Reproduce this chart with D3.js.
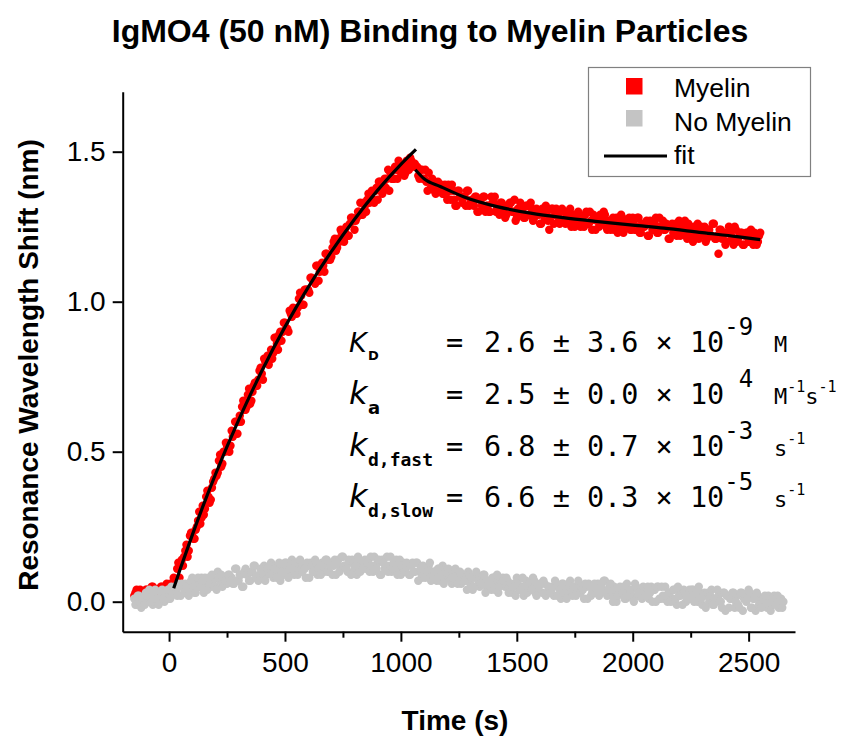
<!DOCTYPE html>
<html><head><meta charset="utf-8">
<script src="https://cdn.jsdelivr.net/npm/d3@7"></script>
<style>
html,body{margin:0;padding:0;background:#fff;}
text{white-space:pre;}
</style></head>
<body><svg id="c" width="856" height="738"></svg>
<script>
// ---- data ----
const title = "IgMO4 (50 nM) Binding to Myelin Particles";
const xLabel = "Time (s)";
const yLabel = "Resonance Wavelength Shift (nm)";
const xTicks = [0, 500, 1000, 1500, 2000, 2500];
const xMinorTicks = [250, 750, 1250, 1750, 2250];
const yTicks = [0.0, 0.5, 1.0, 1.5];
const legendLabels = ["Myelin", "No Myelin", "fit"];

// Myelin, sampled every 10 s from -150 s
const sampleStep = 10;
const myelinStart = -150;
const myelin = [
.02,.04,.03,.01,.03,.04,.02,.03,.05,.03,.04,.02,.05,.04,.06,.04,.05,
.08,.07,.13,.12,.12,.17,.15,.22,.22,.21,
.25,.30,.28,.29,.35,.35,.34,.40,.43,.43,
.49,.46,.50,.52,.50,.57,.56,.60,.60,.60,
.67,.64,.69,.66,.70,.73,.72,.77,.76,.81,
.80,.79,.84,.83,.88,.84,.90,.90,.93,.91,
.97,.95,.97,.96,1.01,1.02,.99,1.04,1.04,1.08,
1.07,1.06,1.12,1.10,1.13,1.10,1.16,1.15,1.15,1.20,
1.17,1.21,1.24,1.21,1.23,1.22,1.26,1.28,1.24,1.28,
1.30,1.29,1.33,1.30,1.36,1.34,1.34,1.37,1.34,1.40,
1.36,1.41,1.41,1.37,1.41,1.41,1.44,1.47,1.43,1.45,
1.43,1.46,1.48,1.45,1.46,
1.45,1.41,1.44,1.41,1.40,1.43,1.38,1.40,1.36,1.40,
1.38,1.36,1.39,1.34,1.37,1.39,1.34,1.32,1.37,1.35,
1.35,1.32,1.37,1.33,1.33,1.35,1.30,1.34,1.32,1.35,
1.32,1.30,1.35,1.33,1.30,1.31,1.33,1.31,1.28,1.32,
1.33,1.30,1.34,1.28,1.30,1.31,1.28,1.32,1.29,1.33,
1.27,1.29,1.30,1.26,1.31,1.28,1.30,1.24,1.31,1.26,
1.31,1.28,1.27,1.30,1.26,1.29,1.31,1.27,1.25,1.29,
1.27,1.28,1.25,1.30,1.26,1.27,1.29,1.24,1.28,1.29,
1.26,1.29,1.24,1.26,1.27,1.24,1.28,1.25,1.29,1.23,
1.27,1.26,1.24,1.28,1.24,1.28,1.23,1.26,1.25,1.27,
1.22,1.26,1.24,1.28,1.23,1.25,1.27,1.24,1.25,1.21,
1.26,1.24,1.22,1.27,1.23,1.25,1.22,1.26,1.23,1.20,
1.24,1.26,1.22,1.23,1.25,1.21,1.24,1.22,1.26,1.21,
1.16,1.24,1.22,1.19,1.23,1.24,1.21,1.25,1.20,1.22,
1.23,1.19,1.23,1.20,1.24,1.19,1.22,1.20,1.23
];
// Myelin, the in-between samples (every 10 s from -145 s)
const myelinMidStart = -145;
const myelinMid = [
.03,.02,.04,.03,.02,.04,.03,.05,.03,.04,.03,.05,.04,.03,.05,.06,.05,
.06,.11,.08,.14,.15,.19,.17,.23,.21,.24,
.27,.26,.32,.31,.37,.33,.38,.41,.42,.47,
.45,.50,.53,.52,.52,.55,.60,.56,.62,.65,
.64,.65,.71,.67,.72,.72,.74,.78,.74,.80,
.82,.81,.81,.88,.86,.89,.87,.93,.91,.90,
.96,.98,.97,.98,1.03,.99,1.04,1.04,1.03,1.08,
1.07,1.12,1.07,1.12,1.12,1.16,1.14,1.14,1.18,1.21,
1.18,1.20,1.23,1.20,1.25,1.22,1.28,1.27,1.27,1.30,
1.33,1.29,1.32,1.34,1.33,1.37,1.33,1.38,1.40,1.37,
1.39,1.38,1.44,1.43,1.41,1.45,1.41,1.44,1.45,1.42,
1.47,1.44,1.47,1.46,
1.45,
1.42,1.44,1.41,1.44,1.37,1.40,1.41,1.37,1.39,1.37,
1.39,1.36,1.36,1.39,1.34,1.37,1.32,1.37,1.35,1.33,
1.35,1.37,1.32,1.34,1.32,1.35,1.30,1.34,1.35,1.30,
1.32,1.30,1.33,1.35,1.31,1.29,1.33,1.31,1.29,1.32,
1.33,1.30,1.27,1.31,1.33,1.30,1.28,1.32,1.29,1.31,
1.28,1.31,1.29,1.26,1.30,1.32,1.27,1.28,1.31,1.29,
1.29,1.26,1.31,1.27,1.28,1.30,1.25,1.29,1.27,1.30,
1.25,1.27,1.29,1.26,1.30,1.24,1.28,1.27,1.25,1.28,
1.30,1.25,1.27,1.24,1.28,1.26,1.23,1.27,1.28,1.25,
1.26,1.28,1.24,1.26,1.24,1.28,1.23,1.25,1.26,1.22,
1.27,1.24,1.26,1.23,1.28,1.25,1.24,1.26,1.21,1.25,
1.23,1.26,1.24,1.22,1.25,1.27,1.21,1.24,1.22,1.25,
1.23,1.21,1.25,1.24,1.20,1.24,1.22,1.26,1.21,1.22,
1.24,1.21,1.23,1.20,1.25,1.22,1.19,1.24,1.21,1.23,
1.19,1.22,1.23,1.20,1.21,1.23,1.19,1.22
];
// No Myelin, every 10 s from -150 s
const noMyelinStart = -150;
const noMyelin = [
.01,-.01,.02,-.02,.01,.03,.00,.02,-.01,.04,.01,.00,.04,.00,.03,.01,.05,.03,.03,.06,
.02,.05,.06,.04,.05,.08,.03,.06,.05,.08,.03,.06,.08,.05,.07,.05,.10,.07,.05,.08,
.06,.09,.08,.06,.11,.07,.09,.05,.11,.09,.07,.10,.12,.08,.09,.08,.12,.09,.11,.13,
.08,.10,.12,.07,.11,.13,.10,.11,.14,.09,.12,.10,.13,.11,.08,.12,.13,.10,.14,.09,
.11,.13,.10,.14,.10,.13,.12,.09,.14,.11,.15,.12,.10,.13,.14,.11,.09,.14,.12,.13,
.11,.14,.15,.10,.12,.13,.09,.14,.11,.15,.12,.10,.13,.14,.11,.09,.13,.11,.12,.09,
.13,.10,.13,.10,.08,.11,.09,.12,.07,.10,.09,.11,.07,.12,.08,.09,.09,.06,.10,.07,
.09,.06,.09,.07,.10,.06,.04,.08,.09,.05,.07,.09,.05,.07,.04,.08,.06,.03,.07,.08,
.05,.07,.05,.03,.06,.08,.04,.05,.02,.07,.04,.06,.08,.03,.05,.06,.03,.06,.03,.05,
.04,.02,.06,.05,.01,.06,.04,.03,.07,.02,.05,.03,.06,.04,.01,.05,.06,.02,.05,.03,
.06,.03,.04,.07,.02,.05,.02,.05,.00,.03,.04,.05,.01,.04,.03,.01,.06,.02,.04,.01,
.04,.03,.01,.05,.04,.00,.05,.01,.02,.05,.00,.03,.01,.04,-.01,.02,.03,.04,.00,.02,
.01,.04,.02,.00,.03,-.01,.03,.02,.00,.04,-.01,.01,.02,.00,.03,-.03,.02,.01,.03,-.02,
.02,-.02,.03,.01,.00,.04,-.02,.01,-.03,.02,.00,-.01,.02,-.02,.01,-.01,.02,.00,-.02,.01,
.00
];
// No Myelin, the in-between samples (every 10 s from -145 s)
const noMyelinMidStart = -145;
const noMyelinMid = [
-.01,.02,.00,.01,-.01,.02,.04,.00,.03,.01,-.01,.03,.01,.03,.04,.01,.03,.05,.02,.05,
.06,.03,.05,.02,.07,.05,.03,.08,.05,.07,.08,.04,.06,.09,.05,.04,.08,.09,.06,.07,
.09,.07,.06,.11,.07,.09,.05,.10,.09,.07,.10,.12,.08,.07,.11,.10,.07,.11,.12,.09,
.11,.08,.13,.10,.09,.13,.08,.12,.11,.13,.09,.14,.10,.11,.13,.08,.12,.10,.13,.11,
.09,.12,.14,.10,.12,.09,.14,.13,.10,.15,.12,.11,.14,.09,.13,.12,.15,.10,.11,.14,
.13,.10,.12,.15,.11,.14,.09,.13,.12,.10,.15,.11,.13,.09,.14,.12,.10,.13,.09,.12,
.10,.13,.07,.11,.12,.08,.10,.13,.09,.10,.07,.11,.09,.06,.10,.11,.07,.08,.11,.06,
.10,.07,.07,.04,.09,.08,.05,.10,.07,.06,.09,.03,.07,.06,.08,.04,.09,.05,.06,.07,
.08,.03,.06,.05,.02,.07,.04,.08,.05,.03,.06,.04,.07,.02,.05,.06,.07,.02,.05,.03,
.05,.07,.02,.04,.06,.03,.01,.06,.04,.05,.02,.07,.03,.04,.06,.01,.05,.03,.06,.04,
.02,.05,.07,.03,.04,.06,.00,.04,.02,.05,.03,.01,.06,.02,.04,.00,.05,.03,.02,.05,
.02,.05,.03,.00,.04,.05,.01,.05,.01,.02,.03,.00,.04,.01,.05,.02,-.01,.03,.01,.04,
.04,.00,.03,.05,.01,.02,-.02,.03,.02,-.01,.01,.04,.00,-.02,.03,.02,-.02,.01,.03,.00,
-.01,.03,-.03,.02,.01,.03,-.02,.01,.03,-.01,-.02,.01,.00,.02,-.03,.01,-.01,.02,.00,-.02
];
// fit curves
const assocFitT = [20, 50, 100, 150, 200, 300, 400, 500, 600, 700, 800, 900, 1000, 1065];
const assocFitV = [0.045, 0.113, 0.222, 0.326, 0.424, 0.605, 0.769, 0.916, 1.048, 1.167, 1.275, 1.372, 1.458, 1.508];
const dissocFitT = [1062, 1100, 1170, 1270, 1415, 1560, 1700, 1850, 2000, 2135, 2300, 2450, 2550];
const dissocFitV = [1.44, 1.41, 1.384, 1.35, 1.317, 1.295, 1.28, 1.267, 1.255, 1.245, 1.23, 1.217, 1.207];

// annotation rows
const annoRows = [
  {sym:"K", sub:"D", val:"2.6 ± 3.6 × 10", exp:"-9", unit:[["M",""]]},
  {sym:"k", sub:"a", val:"2.5 ± 0.0 × 10", exp:" 4", unit:[["M","-1"],["s","-1"]]},
  {sym:"k", sub:"d,fast", val:"6.8 ± 0.7 × 10", exp:"-3", unit:[["s","-1"]]},
  {sym:"k", sub:"d,slow", val:"6.6 ± 0.3 × 10", exp:"-5", unit:[["s","-1"]]}
];

// ---- drawing ----
const svg = d3.select("#c");
const x = d3.scaleLinear().domain([-200, 2700]).range([122.7, 795]);
const y = d3.scaleLinear().domain([-0.1, 1.7]).range([631.7, 91.7]);
const sans = "'Liberation Sans', Arial, sans-serif";
const mono = "'DejaVu Sans Mono', monospace";

const toPts = (arr, start) => arr.map((v,i)=>({t: start + i*sampleStep, v}));
const red = toPts(myelin, myelinStart).concat(toPts(myelinMid, myelinMidStart));
const grey = toPts(noMyelin, noMyelinStart).concat(toPts(noMyelinMid, noMyelinMidStart));

const R = 4.2;
svg.append("g").selectAll("circle").data(red).join("circle")
  .attr("cx", d=>x(d.t)).attr("cy", d=>y(d.v)).attr("r", R).attr("fill", "#ff0000");
svg.append("g").selectAll("circle").data(grey).join("circle")
  .attr("cx", d=>x(d.t)).attr("cy", d=>y(d.v)).attr("r", R).attr("fill", "#c4c4c4");

const line = d3.line().x(d=>x(d[0])).y(d=>y(d[1])).curve(d3.curveMonotoneX);
svg.append("path").attr("d", line(assocFitT.map((t,i)=>[t, assocFitV[i]])))
  .attr("fill","none").attr("stroke","#000").attr("stroke-width",3.2);
svg.append("path").attr("d", line(dissocFitT.map((t,i)=>[t, dissocFitV[i]])))
  .attr("fill","none").attr("stroke","#000").attr("stroke-width",3.2);

// axes
const gx = svg.append("g").attr("transform", `translate(0,${y(-0.1)})`)
  .call(d3.axisBottom(x).tickValues(xTicks).tickFormat(d3.format("d")).tickSize(10).tickPadding(10).tickSizeOuter(0));
const gxm = svg.append("g").attr("transform", `translate(0,${y(-0.1)})`)
  .call(d3.axisBottom(x).tickValues(xMinorTicks).tickFormat("").tickSize(6).tickSizeOuter(0));
gxm.select(".domain").remove();
const gy = svg.append("g").attr("transform", `translate(${x(-200)},0)`)
  .call(d3.axisLeft(y).tickValues(yTicks).tickFormat(d3.format(".1f")).tickSize(10).tickPadding(7).tickSizeOuter(0));
[gx, gxm, gy].forEach(g=>{
  g.selectAll("path,line").attr("stroke","#000").attr("stroke-width",2);
  g.selectAll("text").attr("font-family", sans).attr("font-size", 28).attr("fill","#000");
});

// titles
svg.append("text").attr("x", 430).attr("y", 42).attr("text-anchor","middle")
  .attr("font-family", sans).attr("font-weight","bold").attr("font-size", 32).text(title);
svg.append("text").attr("x", 455).attr("y", 730).attr("text-anchor","middle")
  .attr("font-family", sans).attr("font-weight","bold").attr("font-size", 28).text(xLabel);
svg.append("text").attr("transform","translate(38,365) rotate(-90)").attr("text-anchor","middle")
  .attr("font-family", sans).attr("font-weight","bold").attr("font-size", 28).text(yLabel);

// legend
const lg = svg.append("g");
lg.append("rect").attr("x",588.5).attr("y",67.5).attr("width",222).attr("height",109)
  .attr("fill","#fff").attr("stroke","#808080").attr("stroke-width",1.2);
lg.append("rect").attr("x",626).attr("y",78).attr("width",16.5).attr("height",16.5).attr("fill","#ff0000");
lg.append("rect").attr("x",626).attr("y",110).attr("width",16.5).attr("height",16.5).attr("fill","#c4c4c4");
lg.append("line").attr("x1",604).attr("x2",667).attr("y1",156).attr("y2",156).attr("stroke","#000").attr("stroke-width",3.2);
[97, 131, 164].forEach((yy,i)=>{
  lg.append("text").attr("x", 674).attr("y", yy).attr("font-family", sans).attr("font-size", 26.5).text(legendLabels[i]);
});

// annotation
const baselines = [352, 404, 456, 507];
annoRows.forEach((r,i)=>{
  const by = baselines[i];
  const upper = r.sym === "K";
  svg.append("text").attr("x", 349).attr("y", by).attr("font-family","'DejaVu Sans', sans-serif")
    .attr("font-style","italic").attr("font-size", upper ? 27 : 32).text(r.sym);
  const subSize = r.sub.length > 1 ? 18 : (upper ? 13 : 18);
  svg.append("text").attr("x", 368).attr("y", by + (upper ? 8 : 10))
    .attr("font-family", r.sub.length>1 ? mono : "'DejaVu Sans', sans-serif")
    .attr("font-weight", "bold").attr("font-size", subSize).text(r.sub);
  svg.append("text").attr("x", 446).attr("y", by).attr("font-family", mono).attr("font-size", 28.5).text("=");
  const t = svg.append("text").attr("x", 484).attr("y", by).attr("font-family", mono).attr("font-size", 28.5);
  t.append("tspan").text(r.val);
  t.append("tspan").attr("font-size", 24).attr("dy", -17).text(r.exp);
  let level = -17;
  r.unit.forEach(([u, e], k)=>{
    const ts = t.append("tspan").attr("font-size", 22).attr("dy", -level).text(u);
    if (k === 0) ts.attr("x", 774);
    level = 0;
    if (e) { t.append("tspan").attr("font-size", 15).attr("dy", -12).text(e); level = -12; }
  });
});
</script>
</body></html>
